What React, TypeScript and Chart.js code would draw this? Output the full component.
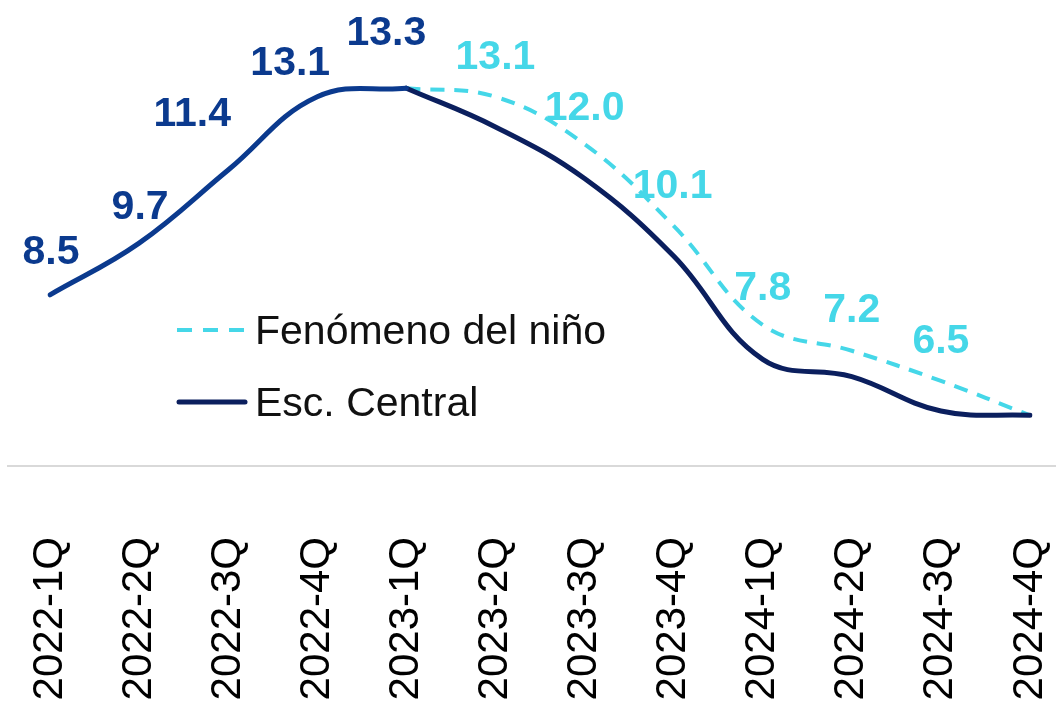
import { useEffect, useRef } from "react";
import { Chart, registerables } from "chart.js";

Chart.register(...registerables);

// ---- data ----
const categories = [
  "2022-1Q", "2022-2Q", "2022-3Q", "2022-4Q",
  "2023-1Q", "2023-2Q", "2023-3Q", "2023-4Q",
  "2024-1Q", "2024-2Q", "2024-3Q", "2024-4Q",
];
const historico = [8.5, 9.7, 11.4, 13.1, 13.3, null, null, null, null, null, null, null];
const escCentral = [null, null, null, null, 13.3, 12.4, 11.2, 9.4, 7.0, 6.6, 5.8, 5.7];
const fenomenoNino = [null, null, null, null, 13.3, 13.1, 12.0, 10.1, 7.8, 7.2, 6.5, 5.7];
const legendLabels = ["Fenómeno del niño", "Esc. Central"];
const historicoLabelIdx = [0, 1, 2, 3, 4];
const ninoLabelIdx = [5, 6, 7, 8, 9, 10];
const yMin = 4.5;
const yMax = 15;

// ---- styles ----
const BLUE = "#0B3A8E";
const NAVY = "#0B1F5E";
const CYAN = "#45D7E8";
const FONT = '"Liberation Sans", Arial, sans-serif';

// label offsets (style only), per point index
const histOffsets: Record<number, [number, number]> = {
  0: [1, -45], 1: [1, -39], 2: [-36, -59], 3: [-27, -36], 4: [-20, -58],
};
const ninoOffsets: Record<number, [number, number]> = {
  5: [0, -42], 6: [0, -39], 7: [-1, -43], 8: [0, -40], 9: [0, -43], 10: [0, -43],
};

const labelPlugin = {
  id: "valueLabels",
  afterDatasetsDraw(chart: any) {
    const ctx = chart.ctx;
    const size = 41;
    ctx.save();
    ctx.font = `bold ${size}px ${FONT}`;
    ctx.textAlign = "center";
    ctx.textBaseline = "alphabetic";
    const draw = (dsIndex: number, idxs: number[], offs: Record<number, [number, number]>, color: string) => {
      const meta = chart.getDatasetMeta(dsIndex);
      const data = chart.data.datasets[dsIndex].data;
      idxs.forEach((i) => {
        const el = meta.data[i];
        const v = data[i];
        if (!el || v == null) return;
        const [dx, dy] = offs[i] || [0, -40];
        ctx.fillStyle = color;
        ctx.fillText(Number(v).toFixed(1), el.x + dx, el.y + dy + size * 0.358);
      });
    };
    draw(0, historicoLabelIdx, histOffsets, BLUE);
    draw(2, ninoLabelIdx, ninoOffsets, CYAN);
    ctx.restore();
  },
};

const axisLinePlugin = {
  id: "axisLine",
  beforeDatasetsDraw(chart: any) {
    const ctx = chart.ctx;
    const y = chart.chartArea.bottom - 1;
    ctx.save();
    ctx.strokeStyle = "#D9D9D9";
    ctx.lineWidth = 2;
    ctx.beginPath();
    ctx.moveTo(7, y);
    ctx.lineTo(chart.width, y);
    ctx.stroke();
    ctx.restore();
  },
};

const legendPlugin = {
  id: "innerLegend",
  afterDraw(chart: any) {
    const ctx = chart.ctx;
    ctx.save();
    ctx.font = `41px ${FONT}`;
    ctx.textAlign = "left";
    ctx.textBaseline = "alphabetic";
    // Fenómeno del niño
    ctx.strokeStyle = CYAN;
    ctx.lineWidth = 4;
    ctx.setLineDash([15, 11]);
    ctx.beginPath();
    ctx.moveTo(177, 330);
    ctx.lineTo(247, 330);
    ctx.stroke();
    ctx.setLineDash([]);
    ctx.fillStyle = "#111111";
    ctx.fillText(legendLabels[0], 255, 344);
    // Esc. Central
    ctx.strokeStyle = NAVY;
    ctx.lineWidth = 5;
    ctx.lineCap = "round";
    ctx.beginPath();
    ctx.moveTo(179, 402);
    ctx.lineTo(245, 402);
    ctx.stroke();
    ctx.fillText(legendLabels[1], 255, 416);
    ctx.restore();
  },
};

export default function App() {
  const canvasRef = useRef<HTMLCanvasElement | null>(null);

  useEffect(() => {
    if (!canvasRef.current) return;
    const chart = new Chart(canvasRef.current, {
      type: "line",
      data: {
        labels: categories,
        datasets: [
          {
            label: "Histórico",
            data: historico,
            borderColor: BLUE,
            borderWidth: 5,
            pointRadius: 0,
            tension: 0.4,
            borderCapStyle: "round",
            fill: false,
          },
          {
            label: legendLabels[1],
            data: escCentral,
            borderColor: NAVY,
            borderWidth: 5,
            pointRadius: 0,
            tension: 0.4,
            borderCapStyle: "round",
            fill: false,
          },
          {
            label: legendLabels[0],
            data: fenomenoNino,
            borderColor: CYAN,
            borderWidth: 4,
            borderDash: [14, 10],
            pointRadius: 0,
            tension: 0.4,
            fill: false,
          },
        ],
      },
      options: {
        animation: false,
        responsive: true,
        maintainAspectRatio: false,
        layout: { padding: { top: 15, left: 50, right: 26, bottom: 0 } },
        plugins: {
          legend: { display: false },
          tooltip: { enabled: false },
        },
        scales: {
          x: {
            offset: false,
            grid: { display: false, drawTicks: false },
            border: { display: false },
            ticks: {
              color: "#000000",
              font: { family: FONT, size: 42 },
              minRotation: 90,
              maxRotation: 90,
              padding: 70,
              autoSkip: false,
            },
            afterFit(scale: any) {
              scale.height = 236;
              scale.paddingLeft = 0;
              scale.paddingRight = 0;
            },
          },
          y: {
            display: false,
            min: yMin,
            max: yMax,
          },
        },
      },
      plugins: [axisLinePlugin, labelPlugin, legendPlugin],
    } as any);
    return () => chart.destroy();
  }, []);

  return (
    <div style={{ position: "fixed", left: 0, top: 0, width: 1056, height: 703, background: "#fff" }}>
      <canvas ref={canvasRef} />
    </div>
  );
}
